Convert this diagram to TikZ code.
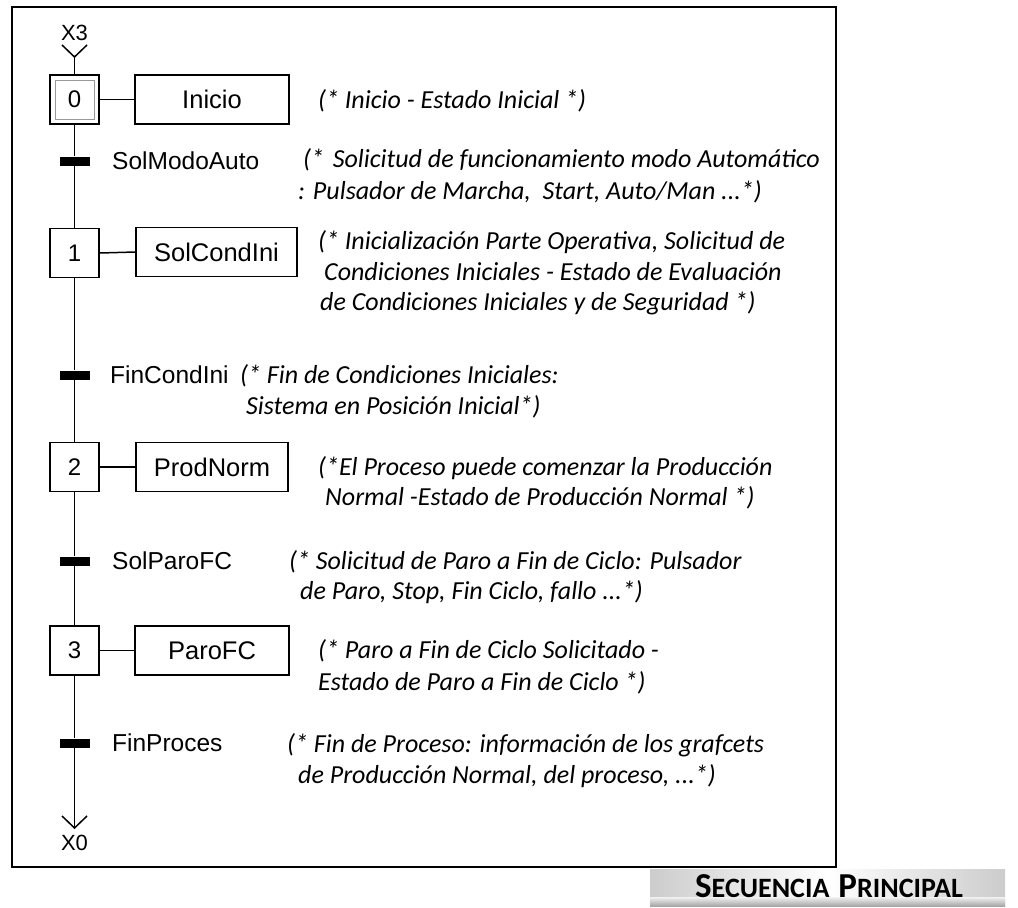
\documentclass[tikz,border=0pt]{standalone}
\usepackage{fontspec}
\setmainfont{Liberation Sans}
\newfontfamily\arialw{Liberation Sans}
\newfontfamily\calib{Carlito}
\begin{document}
\begin{tikzpicture}[x=1pt,y=-1pt,
  stepbox/.style={draw,line width=1.5pt,minimum width=49pt,minimum height=49pt,inner sep=0pt,font=\arialw\fontsize{24}{28}\selectfont},
  actbox/.style={draw,line width=1.5pt,minimum height=49pt,inner sep=0pt,font=\arialw\fontsize{25.5}{30}\selectfont},
  trbar/.style={fill=black,minimum width=30pt,minimum height=9pt,inner sep=0pt},
  trlbl/.style={anchor=west,inner sep=0pt,font=\arialw\fontsize{24.5}{28}\selectfont},
  cmt/.style={anchor=west,inner sep=0pt,font=\calib\itshape\fontsize{26}{30}\selectfont},
  xlbl/.style={inner sep=0pt,font=\fontsize{22}{24}\selectfont},
  link/.style={line width=1.5pt}]
\useasboundingbox (0,0) rectangle (1018,908);

% outer frame
\draw[line width=2pt] (12,7) rectangle (836,867);

% steps
\node[stepbox] (s0) at (74.5,99.5) {};
\node[draw=gray!80,line width=1pt,minimum width=39pt,minimum height=39pt,inner sep=0pt,font=\arialw\fontsize{24}{28}\selectfont] (s0in) at (s0.center) {0};
\node[stepbox] (s1) at (74.5,253) {1};
\node[stepbox] (s2) at (74.5,467) {2};
\node[stepbox] (s3) at (74.5,650.5) {3};

% actions
\node[actbox,minimum width=154pt] (a0) at (212,99.5) {Inicio};
\node[actbox,minimum width=161pt] (a1) at (216.5,252) {SolCondIni};
\node[actbox,minimum width=152pt] (a2) at (212,467) {ProdNorm};
\node[actbox,minimum width=154pt] (a3) at (212,650.5) {ParoFC};

% transitions
\node[trbar] (t0) at (74.5,161) {};
\node[trbar] (t1) at (74.5,375) {};
\node[trbar] (t2) at (74.5,561) {};
\node[trbar] (t3) at (74.5,743) {};

% entry and exit
\node[xlbl] (x3) at (74.5,33) {X3};
\coordinate (inTip) at (74.5,57);
\coordinate (inL) at (62,45);
\coordinate (inR) at (87,45);
\node[xlbl] (x0) at (74.5,843) {X0};
\coordinate (outTip) at (74.5,828);
\coordinate (outL) at (62,816);
\coordinate (outR) at (87,816);

% sequence links
\draw[link] (inL) -- (inTip) -- (inR);
\draw[link] (inTip) -- (s0.north);
\draw[link] (s0.south) -- (t0) -- (s1.north);
\draw[link] (s1.south) -- (t1) -- (s2.north);
\draw[link] (s2.south) -- (t2) -- (s3.north);
\draw[link] (s3.south) -- (t3) -- (outTip);
\draw[link] (outL) -- (outTip) -- (outR);
\draw[link] (s0.east) -- (a0.west);
\draw[link] (s1.east) -- (a1.west);
\draw[link] (s2.east) -- (a2.west);
\draw[link] (s3.east) -- (a3.west);

% receptivities
\node[trlbl] (r0) at (112,161) {SolModoAuto};
\node[trlbl] (r1) at (110,375) {FinCondIni};
\node[trlbl] (r2) at (112,561) {SolParoFC};
\node[trlbl] (r3) at (112,743) {FinProces};

% comments
\node[cmt] (c0) at (318,101) {(* Inicio - Estado Inicial *)};
\node[cmt] (c1a) at (303,160) {(*\hspace{3pt} Solicitud de funcionamiento modo Automático};
\node[cmt] (c1b) at (298,192) {: Pulsador de Marcha,\ \ Start, Auto/Man ...*)};
\node[cmt] (c2a) at (318,242) {(* Inicialización Parte Operativa, Solicitud de};
\node[cmt] (c2b) at (324,272) {Condiciones Iniciales - Estado de Evaluación};
\node[cmt] (c2c) at (320,303) {de Condiciones Iniciales y de Seguridad *)};
\node[cmt] (c3a) at (240,376) {(* Fin de Condiciones Iniciales:};
\node[cmt] (c3b) at (246,407) {Sistema en Posición Inicial*)};
\node[cmt] (c4a) at (318,468) {(*El Proceso puede comenzar la Producción};
\node[cmt] (c4b) at (325,498) {Normal -Estado de Producción Normal *)};
\node[cmt] (c5a) at (289,562) {(* Solicitud de Paro a Fin de Ciclo: Pulsador};
\node[cmt] (c5b) at (300,592) {de Paro, Stop, Fin Ciclo, fallo ...*)};
\node[cmt] (c6a) at (318,651) {(* Paro a Fin de Ciclo Solicitado -};
\node[cmt] (c6b) at (318,683) {Estado de Paro a Fin de Ciclo *)};
\node[cmt] (c7a) at (287,745) {(* Fin de Proceso: información de los grafcets};
\node[cmt] (c7b) at (298,776) {de Producción Normal, del proceso, ...*)};

% title plate
\shade[left color=gray!40, right color=gray!40, middle color=white] (650,869) rectangle (1005,906);
\shade[top color=gray!10, bottom color=gray!70] (650,897) rectangle (1005,906);
\node[inner sep=0pt,font=\calib\bfseries] (title) at (829,886)
  {{\fontsize{35}{36}\selectfont S}{\fontsize{28}{36}\selectfont ECUENCIA}\hspace{9pt}{\fontsize{35}{36}\selectfont P}{\fontsize{28}{36}\selectfont RINCIPAL}};
\end{tikzpicture}
\end{document}
